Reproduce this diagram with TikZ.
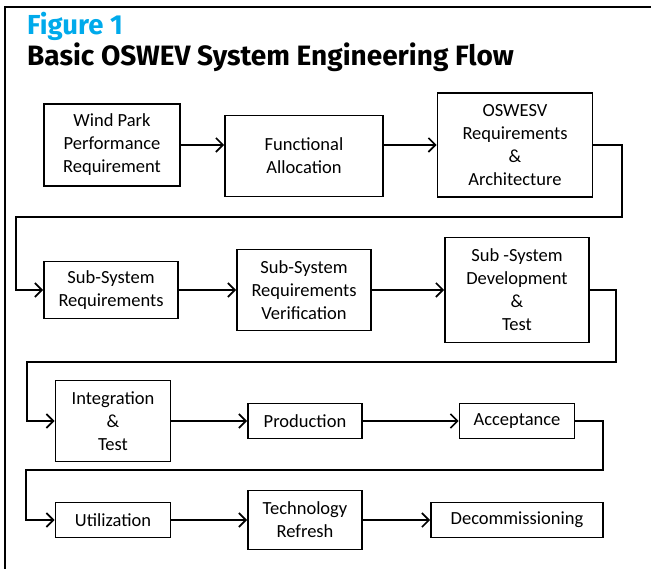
\documentclass[tikz,border=0pt]{standalone}
\usepackage{fontspec}
\setmainfont{Carlito}
\newfontfamily\headfont{Fira Sans}
\usepackage{xcolor}
\usepackage{tikz}
\usetikzlibrary{arrows.meta, positioning}

\definecolor{figcyan}{RGB}{0,170,235}

\begin{document}
\begin{tikzpicture}[
  x=1pt, y=-1pt,
  box/.style={draw, line width=1.7pt, align=center, inner sep=2pt,
              font=\fontsize{18.5}{23}\selectfont},
  arr/.style={-{Straight Barb[length=7pt, width=14pt]}, line width=1.7pt},
  hd/.style={anchor=base west, inner sep=0pt}
]
\useasboundingbox (0,0) rectangle (651,569);
% frame
\draw[line width=2pt] (5,569) -- (5,7) -- (651,7);
% heading
\node[hd, font=\headfont\bfseries\fontsize{27.5}{30}\selectfont, text=figcyan] (fig) at (27,35) {Figure 1};
\node[hd, font=\headfont\bfseries\fontsize{28}{31}\selectfont] (ttl) at (27,66) {Basic OSWEV System Engineering Flow};

% row 1
\node[box, minimum width=136pt, minimum height=82pt] (wind) at (112,145) {Wind Park\\ Performance\\ Requirement};
\node[box, minimum width=158pt, minimum height=81pt] (func) at (304,156) {Functional\\ Allocation};
\node[box, minimum width=155pt, minimum height=104pt] (oswesv) at (515,145) {OSWESV\\ Requirements\\ \&\\ Architecture};
\draw[arr] (wind) -- (wind -| func.west);
\draw[arr] (func.east |- oswesv) -- (oswesv.west);

% row 2
\node[box, minimum width=134pt, minimum height=57pt] (subreq) at (111,290) {Sub-System\\ Requirements};
\node[box, minimum width=134pt, minimum height=81pt] (subver) at (304,290) {Sub-System\\ Requirements\\ Verification};
\node[box, minimum width=144pt, minimum height=105pt] (subdev) at (517,290) {Sub -System\\ Development\\ \&\\ Test};
\draw[arr] (subreq) -- (subver);
\draw[arr] (subver) -- (subdev);

% row 3
\node[box, minimum width=115pt, minimum height=81pt] (integ) at (113,421) {Integration\\ \&\\ Test};
\node[box, minimum width=114pt, minimum height=35pt] (prod) at (305,421) {Production};
\node[box, minimum width=115pt, minimum height=35pt] (accept) at (517,421) {Acceptance};
\draw[arr] (integ) -- (prod);
\draw[arr] (prod) -- (accept);

% row 4
\node[box, minimum width=115pt, minimum height=35pt] (util) at (113,520) {Utilization};
\node[box, minimum width=114pt, minimum height=59pt] (tech) at (305,520) {Technology\\ Refresh};
\node[box, minimum width=172pt, minimum height=35pt] (decom) at (517,520) {Decommissioning};
\draw[arr] (util) -- (tech);
\draw[arr] (tech) -- (decom);

% returns between rows
\coordinate (r1a) at (622,217);
\coordinate (r1b) at (16,217);
\draw[arr] (oswesv.east) -| (r1a) -- (r1b) |- (subreq.west);
\coordinate (r2a) at (616,362);
\coordinate (r2b) at (27,362);
\draw[arr] (subdev.east) -| (r2a) -- (r2b) |- (integ.west);
\coordinate (r3a) at (603,470);
\coordinate (r3b) at (26,470);
\draw[arr] (accept.east) -| (r3a) -- (r3b) |- (util.west);
\end{tikzpicture}
\end{document}
